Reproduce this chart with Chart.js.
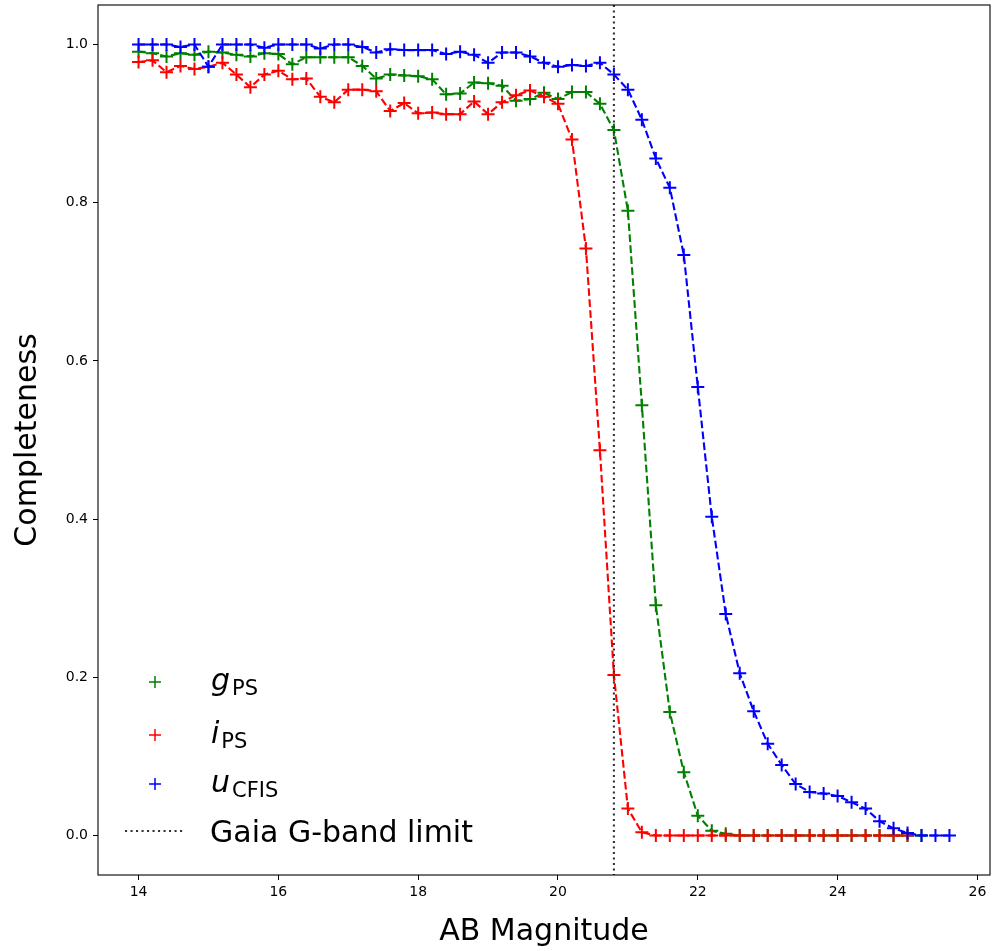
<!DOCTYPE html>
<html>
<head>
<meta charset="utf-8">
<script src="https://cdn.jsdelivr.net/npm/chart.js@4.4.0/dist/chart.umd.min.js"></script>
<style>
html, body { margin: 0; padding: 0; background: #fff; }
#wrap { width: 992px; height: 951px; }
</style>
</head>
<body>
<div id="wrap"><canvas id="myChart" width="992" height="951"></canvas></div>
<script>
// magnitude bins (0.2 mag)
const mags = [14.0, 14.2, 14.4, 14.6, 14.8, 15.0, 15.2, 15.4, 15.6, 15.8,
  16.0, 16.2, 16.4, 16.6, 16.8, 17.0, 17.2, 17.4, 17.6, 17.8,
  18.0, 18.2, 18.4, 18.6, 18.8, 19.0, 19.2, 19.4, 19.6, 19.8,
  20.0, 20.2, 20.4, 20.6, 20.8, 21.0, 21.2, 21.4, 21.6, 21.8,
  22.0, 22.2, 22.4, 22.6, 22.8, 23.0, 23.2, 23.4, 23.6, 23.8,
  24.0, 24.2, 24.4, 24.6, 24.8, 25.0, 25.2, 25.4, 25.6];

const gPS = [0.991, 0.989, 0.985, 0.989, 0.987, 0.991, 0.990, 0.987, 0.985, 0.989,
  0.988, 0.975, 0.984, 0.984, 0.984, 0.984, 0.973, 0.957, 0.962, 0.961,
  0.960, 0.956, 0.937, 0.938, 0.952, 0.951, 0.948, 0.929, 0.931, 0.939,
  0.931, 0.940, 0.940, 0.925, 0.892, 0.790, 0.544, 0.291, 0.156, 0.080,
  0.025, 0.006, 0.002, 0, 0, 0, 0, 0, 0, 0,
  0, 0, 0, 0, 0, 0, 0];

const iPS = [0.978, 0.980, 0.965, 0.973, 0.969, 0.972, 0.977, 0.962, 0.946, 0.962,
  0.967, 0.956, 0.957, 0.934, 0.927, 0.943, 0.943, 0.941, 0.916, 0.926,
  0.913, 0.914, 0.912, 0.912, 0.928, 0.912, 0.927, 0.936, 0.942, 0.934,
  0.925, 0.880, 0.742, 0.487, 0.203, 0.034, 0.004, 0, 0, 0,
  0, 0, 0, 0, 0, 0, 0, 0, 0, 0,
  0, 0, 0, 0, 0, 0];

const uCFIS = [1.000, 1.000, 1.000, 0.997, 1.000, 0.972, 1.000, 1.000, 1.000, 0.996,
  1.000, 1.000, 1.000, 0.995, 1.000, 1.000, 0.997, 0.990, 0.994, 0.993,
  0.993, 0.993, 0.988, 0.991, 0.987, 0.977, 0.990, 0.990, 0.985, 0.977,
  0.972, 0.974, 0.973, 0.977, 0.962, 0.943, 0.905, 0.856, 0.819, 0.734,
  0.567, 0.403, 0.280, 0.205, 0.157, 0.116, 0.089, 0.065, 0.055, 0.053,
  0.050, 0.042, 0.034, 0.018, 0.009, 0.003, 0, 0, 0];

const gaiaLimit = 20.8;
const xTicks = [14, 16, 18, 20, 22, 24, 26];
const yTicks = [0.0, 0.2, 0.4, 0.6, 0.8, 1.0];

const GREEN = '#008000', RED = '#ff0000', BLUE = '#0000ff';

function pts(vals) {
  return vals.map((v, i) => ({ x: mags[i], y: v }));
}

function band(vals, color, order) {
  return {
    data: pts(vals),
    showLine: true,
    borderColor: color,
    backgroundColor: color,
    borderWidth: 2.1,
    borderDash: [7.7, 3.3],
    pointStyle: 'cross',
    pointRadius: 6.5,
    pointHoverRadius: 6.5,
    pointBorderWidth: 2,
    pointBorderColor: color,
    fill: false,
    tension: 0,
    order: order
  };
}

Chart.defaults.font.family = '"DejaVu Sans", sans-serif';
Chart.defaults.color = '#000';

// full box around the axes + the Gaia limit line
const framePlugin = {
  id: 'frame',
  afterDatasetsDraw(chart) {
    const ctx = chart.ctx, a = chart.chartArea;
    const x = chart.scales.x.getPixelForValue(gaiaLimit);
    ctx.save();
    ctx.strokeStyle = '#333';
    ctx.lineWidth = 2.1;
    ctx.setLineDash([2.1, 3.4]);
    ctx.beginPath();
    ctx.moveTo(x, a.top);
    ctx.lineTo(x, a.bottom);
    ctx.stroke();
    ctx.restore();
  },
  afterDraw(chart) {
    const ctx = chart.ctx, a = chart.chartArea;
    ctx.save();
    ctx.strokeStyle = '#000';
    ctx.lineWidth = 1.1;
    ctx.strokeRect(a.left, a.top, a.right - a.left, a.bottom - a.top);
    ctx.restore();
  }
};

// legend with math-style subscripts
const legendItems = [
  { main: 'g', sub: 'PS', color: GREEN },
  { main: 'i', sub: 'PS', color: RED },
  { main: 'u', sub: 'CFIS', color: BLUE }
];
const legendPlugin = {
  id: 'mplLegend',
  afterDraw(chart) {
    const ctx = chart.ctx;
    const rows = [684, 737, 786];
    ctx.save();
    legendItems.forEach((it, k) => {
      const y = rows[k];
      ctx.strokeStyle = it.color;
      ctx.lineWidth = 1.5;
      ctx.beginPath();
      ctx.moveTo(149, y - 2); ctx.lineTo(161, y - 2);
      ctx.moveTo(155, y - 8); ctx.lineTo(155, y + 4);
      ctx.stroke();
      ctx.fillStyle = '#000';
      ctx.textBaseline = 'alphabetic';
      ctx.font = 'italic 30px "DejaVu Sans"';
      ctx.fillText(it.main, 211, y + 6);
      const w = ctx.measureText(it.main).width;
      ctx.font = '21px "DejaVu Sans"';
      ctx.fillText(it.sub, 211 + w + 2, y + 11);
    });
    ctx.strokeStyle = '#333';
    ctx.lineWidth = 2.1;
    ctx.setLineDash([2.1, 3.4]);
    ctx.beginPath();
    ctx.moveTo(125, 831); ctx.lineTo(185, 831);
    ctx.stroke();
    ctx.setLineDash([]);
    ctx.fillStyle = '#000';
    ctx.font = '30px "DejaVu Sans"';
    ctx.fillText('Gaia G-band limit', 210, 842);
    ctx.restore();
  }
};

function noPad(s) {
  s.paddingTop = 0; s.paddingBottom = 0; s.paddingLeft = 0; s.paddingRight = 0;
}

new Chart(document.getElementById('myChart'), {
  type: 'scatter',
  data: {
    datasets: [
      band(gPS, GREEN, 2),
      band(iPS, RED, 1),
      band(uCFIS, BLUE, 0)
    ]
  },
  options: {
    responsive: false,
    animation: false,
    devicePixelRatio: 1,
    layout: { autoPadding: false, padding: { top: 5, right: 2, left: 0, bottom: 0 } },
    plugins: {
      legend: { display: false },
      tooltip: { enabled: false }
    },
    scales: {
      x: {
        type: 'linear',
        min: 13.42,
        max: 26.18,
        afterBuildTicks: s => { s.ticks = xTicks.map(v => ({ value: v })); },
        afterFit: s => { s.height = 76; noPad(s); },
        ticks: { font: { size: 14 }, color: '#000', padding: 4, maxRotation: 0, autoSkip: false },
        grid: { drawOnChartArea: false, drawTicks: true, tickLength: 5, color: '#000' },
        border: { display: false },
        title: { display: true, text: 'AB Magnitude', font: { size: 30 }, color: '#000', padding: { top: 0, bottom: 1 } }
      },
      y: {
        type: 'linear',
        min: -0.05,
        max: 1.05,
        afterBuildTicks: s => { s.ticks = yTicks.map(v => ({ value: v })); },
        afterFit: s => { s.width = 98; noPad(s); },
        ticks: { font: { size: 14 }, color: '#000', padding: 5, callback: v => v.toFixed(1) },
        grid: { drawOnChartArea: false, drawTicks: true, tickLength: 5, color: '#000' },
        border: { display: false },
        title: { display: true, text: 'Completeness', font: { size: 30 }, color: '#000', padding: { top: 10, bottom: 0 } }
      }
    }
  },
  plugins: [framePlugin, legendPlugin]
});
</script>
</body>
</html>
